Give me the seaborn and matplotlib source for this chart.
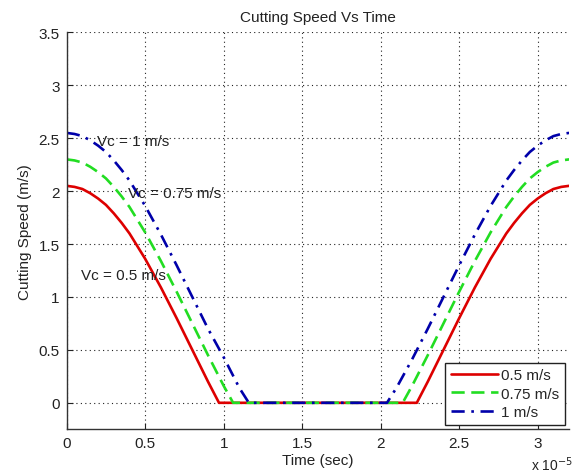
import matplotlib
matplotlib.use("Agg")
import matplotlib.pyplot as plt
import seaborn as sns
import pandas as pd

# Time in units of 1e-5 s
t_05 = [0.0, 0.05, 0.1, 0.15, 0.2, 0.25, 0.3, 0.35, 0.4, 0.5, 0.6, 0.7, 0.8, 0.9, 0.97,
        2.23, 2.3, 2.4, 2.5, 2.6, 2.7, 2.8, 2.85, 2.9, 2.95, 3.0, 3.05, 3.1, 3.15, 3.2]
v_05 = [2.05, 2.04, 2.02, 1.98, 1.93, 1.87, 1.79, 1.70, 1.60, 1.36, 1.09, 0.80, 0.50, 0.20, 0.0,
        0.0, 0.20, 0.50, 0.80, 1.09, 1.36, 1.60, 1.70, 1.79, 1.87, 1.93, 1.98, 2.02, 2.04, 2.05]

t_075 = [0.0, 0.05, 0.1, 0.15, 0.2, 0.25, 0.3, 0.35, 0.4, 0.5, 0.6, 0.7, 0.8, 0.9, 1.0, 1.06,
         2.14, 2.2, 2.3, 2.4, 2.5, 2.6, 2.7, 2.8, 2.85, 2.9, 2.95, 3.0, 3.05, 3.1, 3.15, 3.2]
v_075 = [2.30, 2.29, 2.27, 2.23, 2.18, 2.12, 2.04, 1.95, 1.85, 1.61, 1.34, 1.05, 0.75, 0.45, 0.16, 0.0,
         0.0, 0.16, 0.45, 0.75, 1.05, 1.34, 1.61, 1.85, 1.95, 2.04, 2.12, 2.18, 2.23, 2.27, 2.29, 2.30]

t_1 = [0.0, 0.05, 0.1, 0.15, 0.2, 0.25, 0.3, 0.35, 0.4, 0.5, 0.6, 0.7, 0.8, 0.9, 1.0, 1.1, 1.16,
       2.04, 2.1, 2.2, 2.3, 2.4, 2.5, 2.6, 2.7, 2.8, 2.85, 2.9, 2.95, 3.0, 3.05, 3.1, 3.15, 3.2]
v_1 = [2.55, 2.54, 2.52, 2.48, 2.43, 2.37, 2.29, 2.20, 2.10, 1.86, 1.59, 1.30, 1.00, 0.70, 0.43, 0.14, 0.0,
       0.0, 0.14, 0.41, 0.70, 1.00, 1.30, 1.59, 1.86, 2.10, 2.20, 2.29, 2.37, 2.43, 2.48, 2.52, 2.54, 2.55]

series_names = ["0.5 m/s", "0.75 m/s", "1 m/s"]
series_colors = ["#dd0000", "#22dd22", "#0000aa"]
annotations = [("Vc = 1 m/s", 0.19, 2.47),
               ("Vc = 0.75 m/s", 0.39, 1.98),
               ("Vc = 0.5 m/s", 0.09, 1.21)]

x_ticks = [0, 0.5, 1, 1.5, 2, 2.5, 3]
x_tick_labels = ["0", "0.5", "1", "1.5", "2", "2.5", "3"]
y_ticks = [0, 0.5, 1, 1.5, 2, 2.5, 3, 3.5]
y_tick_labels = ["0", "0.5", "1", "1.5", "2", "2.5", "3", "3.5"]

df = pd.concat([
    pd.DataFrame({"t": t_05, "v": v_05, "series": series_names[0]}),
    pd.DataFrame({"t": t_075, "v": v_075, "series": series_names[1]}),
    pd.DataFrame({"t": t_1, "v": v_1, "series": series_names[2]}),
], ignore_index=True)

sns.set_theme(style="white")
plt.rcParams["font.family"] = ["Liberation Sans", "DejaVu Sans"]

FS = 11
TXT = "#222222"

fig = plt.figure(figsize=(5.76, 4.77), dpi=100)
ax = fig.add_axes([0.1158, 0.098, 0.8722, 0.832])

sns.lineplot(data=df, x="t", y="v", hue="series", style="series",
             palette=series_colors, hue_order=series_names,
             style_order=series_names,
             dashes=[(None, None), (5, 2.5), (5, 2.5, 1, 2.5)],
             linewidth=1.9, sort=False, estimator=None, ax=ax)

ax.set_xlim(0, 3.2)
ax.set_ylim(-0.25, 3.5)
ax.set_xticks(x_ticks)
ax.set_xticklabels(x_tick_labels)
ax.set_yticks(y_ticks)
ax.set_yticklabels(y_tick_labels)
ax.tick_params(direction="in", length=4, width=0.8, colors=TXT,
               labelsize=FS, top=False, right=False, bottom=True, left=True,
               pad=5)
ax.grid(True, linestyle=(0, (1, 3)), color=TXT, linewidth=0.8)

for side in ["top", "right"]:
    ax.spines[side].set_visible(False)
for side in ["left", "bottom"]:
    ax.spines[side].set_color("#333333")
    ax.spines[side].set_linewidth(1.0)

ax.set_title("Cutting Speed Vs Time", fontsize=FS, color=TXT, pad=8)
ax.set_xlabel("Time (sec)", fontsize=FS, color=TXT, labelpad=2)
ax.set_ylabel("Cutting Speed (m/s)", fontsize=FS, color=TXT, labelpad=5)

for txt, x, y in annotations:
    ax.text(x, y, txt, fontsize=FS, color=TXT, va="center", ha="left")

fig.text(0.922, 0.006, r"x 10$^{-5}$", fontsize=FS - 1, color=TXT,
         ha="left", va="bottom")

leg = ax.legend(loc="lower right", fontsize=FS, frameon=True, fancybox=False,
                edgecolor=TXT, framealpha=1, handlelength=3.1,
                borderaxespad=0.3, labelspacing=0.3, handletextpad=0.2,
                borderpad=0.35)
leg.get_frame().set_linewidth(1.0)

fig.savefig("out.png", dpi=100)
